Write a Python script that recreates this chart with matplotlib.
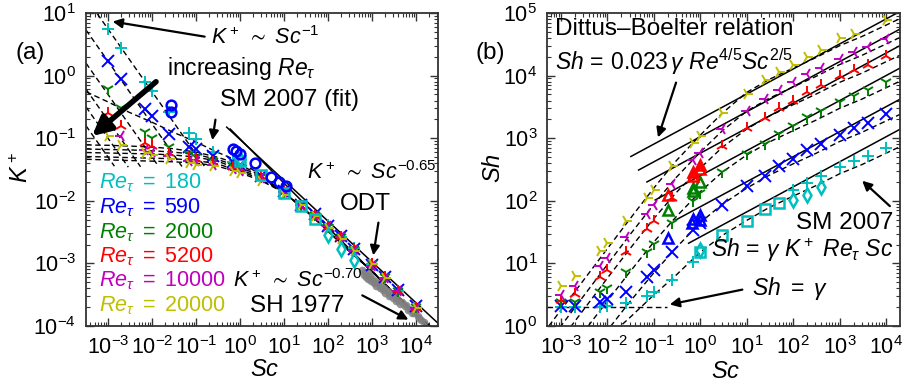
import numpy as np
import matplotlib
matplotlib.use('Agg')
import matplotlib.pyplot as plt
from matplotlib.ticker import LogLocator, NullFormatter

plt.rcParams['font.family'] = ['Liberation Sans', 'DejaVu Sans']
plt.rcParams['mathtext.fontset'] = 'custom'
plt.rcParams['mathtext.rm'] = 'Liberation Sans'
plt.rcParams['mathtext.it'] = 'Liberation Sans:italic'
plt.rcParams['mathtext.bf'] = 'Liberation Sans:bold'
plt.rcParams['mathtext.fallback'] = 'stixsans'

nan = np.nan
gamma = 2.0

re_tau = [180, 590, 2000, 5200, 10000, 20000]
colors = ['c', 'b', 'g', 'r', 'm', 'y']
markers = ['+', 'x', '1', '2', '3', '4']

# ODT, Sh
sc_odt = [1e-3, 2e-3, 7e-3, 1e-2, 2.5e-2, 7e-2, 0.1, 0.25, 0.7, 1, 3, 10, 25, 50,
          100, 200, 400, 1000, 2000, 4000, 1e4]
sh_180 = [2.0, 2.0, 2.0, 2.05, 2.36, 3.0, 3.45, 5.4, 10.5, nan, nan, nan, nan, nan,
          150, 191, 252, 347, 427, 520, 700]
sh_590 = [2.05, 2.1, 2.45, 2.7, 3.5, 6.0, 7.8, 15.2, 34, 44, 87, 170, 250, 360,
          470, 650, 805, 1120, 1430, 1750, 2450]
sh_2000 = [2.45, 2.45, 3.5, 4.1, 7.3, 15.4, 20.3, 44, 99, 132, 290, 560, 820, 1180,
           1550, 2150, 2700, 3850, 4800, 5800, 8000]
sh_5200 = [2.6, 3.25, 6.1, 7.8, 15, 35.5, 48, 110, 250, 330, 750, 1450, 2100, 3000,
           4000, 5500, 7000, 10000, 12500, 15000, 20500]
sh_10000 = [3.1, 4.3, 9.1, 12.2, 26, 61, 85, 186, 450, 590, 1400, 2750, 4300, 5800,
            7900, 10500, 13300, 18500, 23500, 28500, 39000]
sh_20000 = [4.3, 6.2, 16, 21.5, 47, 112, 148, 360, 850, 1100, 2500, 5000, 8500, 11500,
            14800, 19500, 25600, 39600, 47000, nan, 77000]
sh_all = [sh_180, sh_590, sh_2000, sh_5200, sh_10000, sh_20000]

# DNS symbols
sc_sq = [1, 3, 10, 25, 50]
sh_sq = [15.4, 28.4, 48, 73, 91]
sc_dia = [1, 100, 200, 400]
sh_dia = [16.5, 103, 124, 165]
sc_tri_b = [0.2, 0.65, 0.7, 1.0, 1.0]
sh_tri_b = [25, 44, 51, 50, 59]
sc_tri_g = [0.2, 0.7, 0.7, 1.0]
sh_tri_g = [71, 141, 159, 202]
sc_tri_r = [0.2, 0.7, 0.7, 1.0, 1.0]
sh_tri_r = [124, 250, 291, 320, 372]

# blue circles, panel (a) only
sc_circ = [0.027, 0.027, 0.7, 0.8, 1.0, 2.2, 5.2, 7.7, 11]
k_circ = [0.34, 0.26, 0.068, 0.063, 0.056, 0.040, 0.024, 0.020, 0.017]

# SH 1977 (grey)
sc_sh77 = [600, 650, 680, 750, 800, 820, 900, 950, 1000, 1100, 1200, 1250, 1400, 1500,
           1600, 1800, 1900, 2000, 2300, 2500, 2600, 3000, 3300, 3500, 4000, 4300,
           4700, 5500, 6000, 6500, 7500, 8000, 9000, 11000, 12000, 13000, 15000]
k_sh77 = [7.9e-4, 6.5e-4, 7.2e-4, 6.1e-4, 7.0e-4, 5.6e-4, 6.3e-4, 5.2e-4, 5.7e-4, 4.8e-4,
          5.3e-4, 4.4e-4, 4.9e-4, 4.0e-4, 4.4e-4, 3.7e-4, 4.1e-4, 3.4e-4, 3.6e-4, 3.0e-4,
          3.3e-4, 2.75e-4, 3.0e-4, 2.5e-4, 2.6e-4, 2.25e-4, 2.4e-4, 2.05e-4, 2.2e-4,
          1.8e-4, 1.85e-4, 1.6e-4, 1.6e-4, 1.45e-4, 1.35e-4, 1.25e-4, 1.15e-4]

# SM 2007 fit, K+ per Re_tau
sc_fit = [3.2e-4, 1e-3, 3e-3, 1e-2, 3e-2, 0.1, 0.3, 1, 3, 10, 30, 100, 300, 1e3, 3e3, 1e4, 3.2e4]
kfit_tail = [0.0135, 0.0072, 0.0033, 0.0016, 7.5e-4, 3.5e-4, 1.6e-4, 7.5e-5]
kfit_180 = [0.55, 0.38, 0.26, 0.18, 0.125, 0.087, 0.06, 0.042, 0.026] + kfit_tail
kfit_590 = [0.078, 0.077, 0.075, 0.072, 0.068, 0.060, 0.050, 0.038, 0.025] + kfit_tail
kfit_2000 = [0.067, 0.066, 0.065, 0.063, 0.060, 0.055, 0.046, 0.035, 0.024] + kfit_tail
kfit_5200 = [0.059, 0.058, 0.057, 0.056, 0.054, 0.050, 0.043, 0.032, 0.023] + kfit_tail
kfit_10000 = [0.051, 0.050, 0.049, 0.048, 0.047, 0.044, 0.039, 0.030, 0.022] + kfit_tail
kfit_20000 = [0.046, 0.045, 0.044, 0.043, 0.042, 0.040, 0.036, 0.028, 0.021] + kfit_tail
kfit_all = [kfit_180, kfit_590, kfit_2000, kfit_5200, kfit_10000, kfit_20000]

# Sh = gamma
sc_gam = [10**-3.5, 0.19]
sc_gam_end_a = [0.16, 0.048, 0.014, 0.0055, 0.0029, 0.0014]

# power laws in (a)
sc_p065 = [0.5, 3.2e4]
k_p065 = [0.15, 1.1e-4]
sc_p070 = [0.6, 1.7e4]
k_p070 = [0.14, 1.0e-4]

# Dittus-Boelter lines in (b)
db_sc0 = [0.56, 0.29, 0.107, 0.071, 0.047, 0.032]
db_sh0 = [21, 49, 103, 200, 310, 510]
db_sc1 = 2e4
db_sh1 = [1390, 4200, 13200, 30200, 55400, 1.06e5]

fig = plt.figure(figsize=(9.04, 3.9), dpi=100)
axa = fig.add_axes([0.0951, 0.1641, 0.3894, 0.8026])
axb = fig.add_axes([0.6051, 0.1641, 0.3905, 0.8026])

dash = dict(color='k', lw=1.0, ls=(0, (4, 2.5)))

for i, re in enumerate(re_tau):
    # panel (a)
    axa.plot(sc_fit, kfit_all[i], **dash)
    sc_s = [sc_gam[0], sc_gam_end_a[i]]
    axa.plot(sc_s, [gamma / (gamma * re * s) for s in sc_s], **dash)
    # panel (b)
    axb.plot(sc_fit, [gamma * k * re * s for k, s in zip(kfit_all[i], sc_fit)], **dash)
    axb.plot([db_sc0[i], db_sc1], [db_sh0[i], db_sh1[i]], color='k', lw=1.1)

axb.plot(sc_gam, [gamma, gamma], **dash)

axa.plot(sc_p065, k_p065, color='k', lw=1.1)
axa.plot(sc_p070, k_p070, color='k', lw=1.1)
axa.plot(sc_sh77, k_sh77, 'o', color='0.5', ms=5.5, mec='none', alpha=0.85)

mk = dict(ls='none', ms=8.5, mew=1.4)
for i, re in enumerate(re_tau):
    sh = np.array(sh_all[i])
    sc = np.array(sc_odt)
    axb.plot(sc, sh, marker=markers[i], color=colors[i], **mk)
    axa.plot(sc, sh / (gamma * re * sc), marker=markers[i], color=colors[i], **mk)

op = dict(ls='none', ms=7, mew=1.8, mfc='none')
axb.plot(sc_sq, sh_sq, 's', mec='c', **op)
axb.plot(sc_dia, sh_dia, 'd', mec='c', **op)
axa.plot(sc_sq, [h / (gamma * 180 * s) for h, s in zip(sh_sq, sc_sq)], 's', mec='c', **op)
axa.plot(sc_dia, [h / (gamma * 180 * s) for h, s in zip(sh_dia, sc_dia)], 'd', mec='c', **op)
axb.plot(sc_tri_b, sh_tri_b, '^', mec='b', **op)
axb.plot(sc_tri_g, sh_tri_g, '^', mec='g', **op)
axb.plot(sc_tri_r, sh_tri_r, '^', mec='r', **op)
axa.plot(sc_circ, k_circ, 'o', mec='b', **op)

for ax in (axa, axb):
    ax.set_xscale('log')
    ax.set_yscale('log')
    ax.xaxis.set_major_locator(LogLocator(base=10, numticks=20))
    ax.xaxis.set_minor_locator(LogLocator(base=10, subs=np.arange(2, 10), numticks=20))
    ax.xaxis.set_minor_formatter(NullFormatter())
    ax.yaxis.set_minor_formatter(NullFormatter())
    ax.tick_params(which='both', direction='in', top=True, right=True, labelsize=15.5,
                   color='0.2', pad=7)
    ax.tick_params(which='major', length=6, width=1)
    ax.tick_params(which='minor', length=3, width=0.8)
    for sp in ax.spines.values():
        sp.set_linewidth(1.3)
        sp.set_color('0.2')

axa.set_xlim(10**-3.5, 10**4.5)
axa.set_ylim(1e-4, 10)
axa.set_xticks([10.0**p for p in range(-3, 5)])
axb.set_xlim(10**-3.3, 10**4.3)
axb.set_ylim(1, 1e5)
axb.set_xticks([10.0**p for p in range(-3, 5)])

ft = 17.5   # plain text
fm = 15.5   # math text
fig.text(30 / 904, 1 - 53 / 390, '(a)', fontsize=ft, ha='center', va='center')
fig.text(490 / 904, 1 - 53 / 390, '(b)', fontsize=ft, ha='center', va='center')
fig.text(22 / 904, 1 - 168 / 390, r'$K^+$', fontsize=17, rotation=90, ha='center', va='center')
fig.text(265 / 904, 1 - 370 / 390, r'$Sc$', fontsize=17, ha='center', va='center')
fig.text(494 / 904, 1 - 168 / 390, r'$Sh$', fontsize=17, rotation=90, ha='center', va='center')
fig.text(726 / 904, 1 - 372 / 390, r'$Sc$', fontsize=17, ha='center', va='center')

# panel (a) annotations
ta = axa.transAxes
arr = dict(arrowstyle='-|>', color='k', lw=1.6, mutation_scale=14)
axa.text(0.355, 0.923, r'$K^+\ \sim\ Sc^{-1}$', transform=ta, fontsize=fm, va='center')
axa.annotate('', xy=(0.068, 0.974), xytext=(0.345, 0.923), xycoords=ta, arrowprops=arr)
axa.text(0.230, 0.824, r'increasing $Re_\tau$', transform=ta, fontsize=16.5, va='center')
axa.annotate('', xy=(0.011, 0.601), xytext=(0.205, 0.786), xycoords=ta,
             arrowprops=dict(arrowstyle='-|>', color='k', lw=4, mutation_scale=28))
axa.text(0.577, 0.722, 'SM 2007 (fit)', transform=ta, fontsize=ft, ha='center', va='center')
axa.annotate('', xy=(0.358, 0.585), xytext=(0.369, 0.668), xycoords=ta, arrowprops=arr)
axa.text(0.628, 0.489, r'$K^+\ \sim\ Sc^{-0.65}$', transform=ta, fontsize=fm, va='center')
axa.text(0.793, 0.390, 'ODT', transform=ta, fontsize=ft, ha='center', va='center')
axa.annotate('', xy=(0.815, 0.217), xytext=(0.832, 0.339), xycoords=ta, arrowprops=arr)
axa.text(0.418, 0.144, r'$K^+\ \sim\ Sc^{-0.70}$', transform=ta, fontsize=fm, va='center')
axa.text(0.599, 0.064, 'SH 1977', transform=ta, fontsize=ft, ha='center', va='center')
axa.annotate('', xy=(0.923, 0.016), xytext=(0.778, 0.102), xycoords=ta, arrowprops=arr)
leg_y = [0.457, 0.377, 0.297, 0.220, 0.144, 0.064]
for i, re in enumerate(re_tau):
    axa.text(0.037, leg_y[i], r'$Re_\tau\ =\ %d$' % re, transform=ta, fontsize=15.5,
             color=colors[i], va='center')

# panel (b) annotations
tb = axb.transAxes
axb.text(0.023, 0.949, 'Dittus\u2013Boelter relation', transform=tb, fontsize=ft, va='center')
axb.text(0.023, 0.843, r'$Sh\,=\,0.023\,\gamma\ Re^{4/5}Sc^{2/5}$', transform=tb,
         fontsize=16.5, va='center')
axb.annotate('', xy=(0.312, 0.594), xytext=(0.368, 0.786), xycoords=tb, arrowprops=arr)
axb.text(0.980, 0.329, 'SM 2007', transform=tb, fontsize=ft, ha='right', va='center')
axb.text(0.980, 0.243, r'$Sh\,=\,\gamma\ K^+\ Re_\tau\ Sc$', transform=tb, fontsize=16.5,
         ha='right', va='center')
axb.annotate('', xy=(0.887, 0.470), xytext=(0.977, 0.377), xycoords=tb, arrowprops=arr)
axb.text(0.581, 0.121, r'$Sh\ =\ \gamma$', transform=tb, fontsize=16.5, va='center')
axb.annotate('', xy=(0.340, 0.067), xytext=(0.561, 0.118), xycoords=tb, arrowprops=arr)

fig.savefig('out.png', dpi=100)
